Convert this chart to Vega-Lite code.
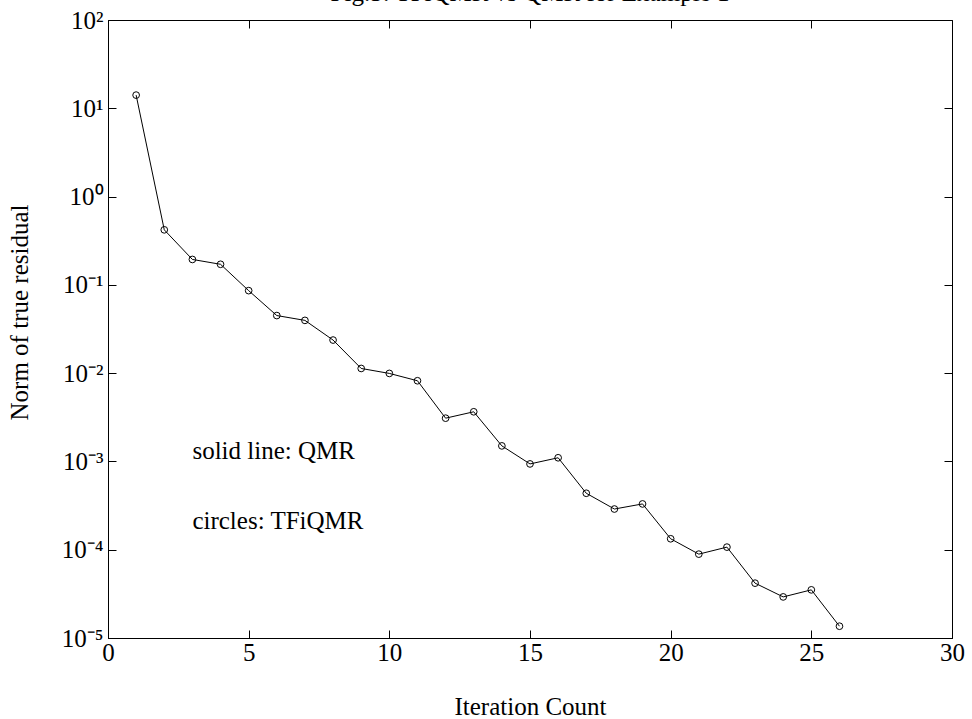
{
  "$schema": "https://vega.github.io/schema/vega-lite/v6.json",
  "width": 844,
  "height": 618,
  "autosize": {"type": "none"},
  "padding": {"left": 108, "top": 20, "right": 20, "bottom": 81},
  "background": "white",
  "config": {
    "view": {"stroke": "black", "strokeWidth": 1},
    "font": "Liberation Serif",
    "axis": {"grid": false, "domainColor": "black", "tickColor": "black", "labelColor": "black", "titleColor": "black", "labelFont": "Liberation Serif", "titleFont": "Liberation Serif", "labelFontSize": 25, "titleFontSize": 25, "titleFontWeight": "normal", "tickSize": -8, "domainWidth": 1, "tickWidth": 1}
  },
  "title": {"text": "Fig.5: TFiQMR vs QMR for Example 1", "font": "Liberation Serif", "fontSize": 25, "fontWeight": "normal", "color": "black", "baseline": "alphabetic", "offset": 4, "dy": 22, "anchor": "middle"},
  "datasets": {
    "res": [
      {"iter": 1, "norm": 14.1},
      {"iter": 2, "norm": 0.42},
      {"iter": 3, "norm": 0.194},
      {"iter": 4, "norm": 0.171},
      {"iter": 5, "norm": 0.086},
      {"iter": 6, "norm": 0.0449},
      {"iter": 7, "norm": 0.0396},
      {"iter": 8, "norm": 0.0237},
      {"iter": 9, "norm": 0.0113},
      {"iter": 10, "norm": 0.00993},
      {"iter": 11, "norm": 0.0082},
      {"iter": 12, "norm": 0.00309},
      {"iter": 13, "norm": 0.00365},
      {"iter": 14, "norm": 0.0015},
      {"iter": 15, "norm": 0.000937},
      {"iter": 16, "norm": 0.0011},
      {"iter": 17, "norm": 0.000436},
      {"iter": 18, "norm": 0.000289},
      {"iter": 19, "norm": 0.00033},
      {"iter": 20, "norm": 0.000133},
      {"iter": 21, "norm": 0.0000891},
      {"iter": 22, "norm": 0.000107},
      {"iter": 23, "norm": 0.0000418},
      {"iter": 24, "norm": 0.0000292},
      {"iter": 25, "norm": 0.0000351},
      {"iter": 26, "norm": 0.0000136}
    ],
    "notes": [
      {"iter": 3, "norm": 0.00132, "label": "solid line: QMR"},
      {"iter": 3, "norm": 0.000211, "label": "circles: TFiQMR"}
    ]
  },
  "layer": [
    {
      "data": {"name": "res"},
      "layer": [
        {
          "mark": {"type": "line", "color": "black", "strokeWidth": 1},
          "encoding": {
            "x": {"field": "iter", "type": "quantitative", "scale": {"domain": [0, 30], "nice": false}, "axis": {"orient": "bottom", "values": [0, 5, 10, 15, 20, 25, 30], "title": "Iteration Count", "titlePadding": 29, "labelPadding": 10, "labelFlush": false}},
            "y": {"field": "norm", "type": "quantitative", "scale": {"type": "log", "domain": [0.00001, 100], "nice": false}, "axis": {"orient": "left", "values": [0.00001, 0.0001, 0.001, 0.01, 0.1, 1, 10, 100], "labelExpr": "'10' + ['⁻⁵','⁻⁴','⁻³','⁻²','⁻¹','⁰','¹','²'][round(log(datum.value)/LN10)+5]", "title": "Norm of true residual", "titlePadding": 29, "labelPadding": 13, "labelFlush": false, "titleY": 292}}
          }
        },
        {
          "mark": {"type": "point", "shape": "circle", "filled": false, "stroke": "black", "strokeWidth": 1, "size": 45, "opacity": 1},
          "encoding": {
            "x": {"field": "iter", "type": "quantitative"},
            "y": {"field": "norm", "type": "quantitative"}
          }
        }
      ]
    },
    {
      "data": {"name": "notes"},
      "mark": {"type": "text", "align": "left", "baseline": "middle", "font": "Liberation Serif", "fontSize": 25, "color": "black"},
      "encoding": {
        "x": {"field": "iter", "type": "quantitative", "axis": null},
        "y": {"field": "norm", "type": "quantitative", "axis": null},
        "text": {"field": "label"}
      }
    },
    {
      "data": {"name": "res"},
      "mark": {"type": "point", "opacity": 0},
      "encoding": {
        "x": {"field": "iter", "type": "quantitative", "axis": {"orient": "top", "values": [0, 5, 10, 15, 20, 25, 30], "labels": false, "title": null, "domain": false}},
        "y": {"field": "norm", "type": "quantitative", "axis": {"orient": "right", "values": [0.00001, 0.0001, 0.001, 0.01, 0.1, 1, 10, 100], "labels": false, "title": null, "domain": false}}
      }
    }
  ],
  "resolve": {"axis": {"x": "independent", "y": "independent"}}
}
